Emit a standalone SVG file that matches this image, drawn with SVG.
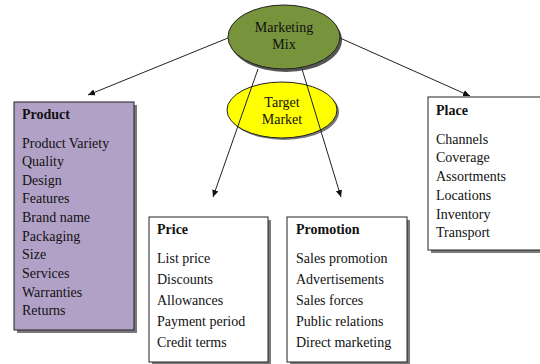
<svg xmlns="http://www.w3.org/2000/svg" width="540" height="364" viewBox="0 0 540 364">
<style>
text{font-family:"Liberation Serif","Times New Roman",serif;font-size:14px;fill:#111}
.h{font-weight:bold}
.e{font-size:14px;text-anchor:middle}
.box{stroke:#222;stroke-width:1}
.shadow{fill:#7a7a7a}
.conn{stroke:#222;stroke-width:1;fill:none;marker-end:url(#arr)}
</style>
<defs>
<marker id="arr" markerWidth="8" markerHeight="8" refX="7" refY="4" orient="auto" markerUnits="userSpaceOnUse">
<path d="M0,0.8 L7,4 L0,7.2 z" fill="#111"/>
</marker>
</defs>
<rect width="540" height="364" fill="#fff"/>
<g id="product">
<rect class="shadow" x="17" y="105" width="120" height="228"/>
<rect class="box" x="14" y="102" width="120" height="228" fill="#b2a1c7"/>
<text class="h" x="22" y="119">Product</text>
<text x="22" y="148">Product Variety</text>
<text x="22" y="166">Quality</text>
<text x="22" y="185">Design</text>
<text x="22" y="203">Features</text>
<text x="22" y="222">Brand name</text>
<text x="22" y="241">Packaging</text>
<text x="22" y="259">Size</text>
<text x="22" y="278">Services</text>
<text x="22" y="297">Warranties</text>
<text x="22" y="315">Returns</text>
</g>
<g id="price">
<rect class="shadow" x="152" y="220" width="119" height="150"/>
<rect class="box" x="149" y="217" width="119" height="145" fill="#fff"/>
<text class="h" x="157" y="234">Price</text>
<text x="157" y="263">List price</text>
<text x="157" y="284">Discounts</text>
<text x="157" y="305">Allowances</text>
<text x="157" y="326">Payment period</text>
<text x="157" y="347">Credit terms</text>
</g>
<g id="promotion">
<rect class="shadow" x="290" y="220" width="120" height="150"/>
<rect class="box" x="287" y="217" width="120" height="145" fill="#fff"/>
<text class="h" x="296" y="234">Promotion</text>
<text x="296" y="263">Sales promotion</text>
<text x="296" y="284">Advertisements</text>
<text x="296" y="305">Sales forces</text>
<text x="296" y="326">Public relations</text>
<text x="296" y="347">Direct marketing</text>
</g>
<g id="place">
<rect class="shadow" x="431" y="100" width="114" height="153"/>
<rect class="box" x="428" y="97" width="114" height="153" fill="#fff"/>
<text class="h" x="436" y="115">Place</text>
<text x="436" y="144">Channels</text>
<text x="436" y="162">Coverage</text>
<text x="436" y="181">Assortments</text>
<text x="436" y="200">Locations</text>
<text x="436" y="219">Inventory</text>
<text x="436" y="237">Transport</text>
</g>
<g id="marketing-mix">
<ellipse cx="286" cy="40" rx="56" ry="32" fill="#555"/>
<ellipse class="box" cx="284" cy="37" rx="56" ry="32" fill="#77933c"/>
<text class="e" x="284" y="32">Marketing</text>
<text class="e" x="284" y="49">Mix</text>
</g>
<g id="target-market">
<ellipse cx="284" cy="112" rx="55" ry="28" fill="#777"/>
<ellipse class="box" cx="282" cy="110" rx="55" ry="28" fill="#ffff00"/>
<text class="e" x="282" y="107">Target</text>
<text class="e" x="282" y="124">Market</text>
</g>
<g id="connectors">
<line class="conn" x1="228" y1="38" x2="88" y2="95"/>
<line class="conn" x1="340" y1="38" x2="470" y2="96"/>
<line class="conn" x1="258" y1="69" x2="213" y2="197"/>
<line class="conn" x1="302" y1="69" x2="341" y2="197"/>
</g>
</svg>
